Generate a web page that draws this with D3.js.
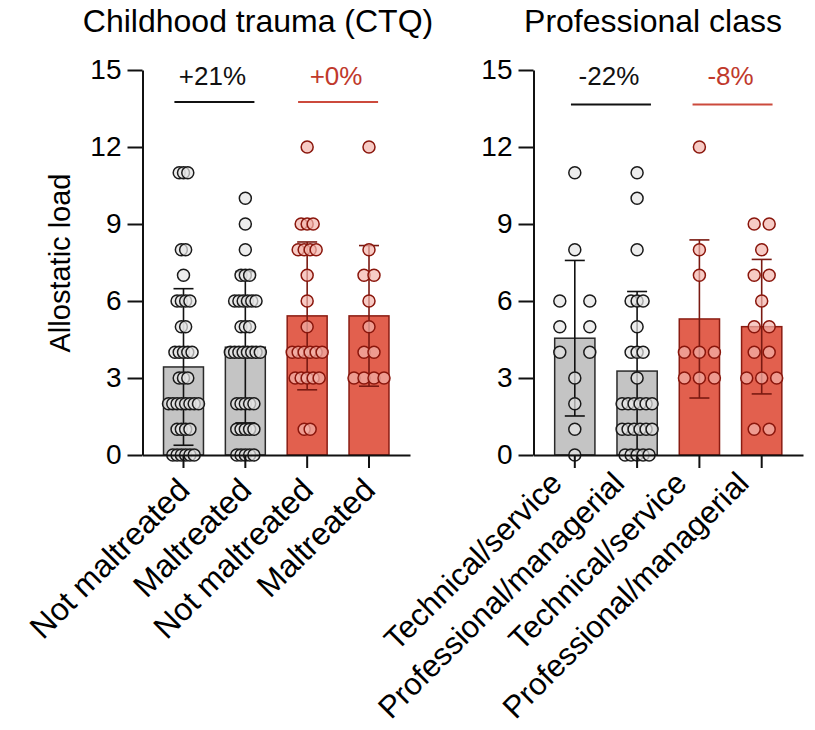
<!DOCTYPE html>
<html>
<head>
<meta charset="utf-8">
<script src="https://cdn.jsdelivr.net/npm/d3@7"></script>
<style>
  html, body { margin: 0; padding: 0; background: #fff; }
  svg { display: block; font-family: "Liberation Sans", Arial, Helvetica, sans-serif; }
</style>
</head>
<body>
<svg id="chart" width="815" height="730"></svg>
<script>
// ---------------- data ----------------
const ctqTitle = "Childhood trauma (CTQ)";
const classTitle = "Professional class";
const yLabel = "Allostatic load";
const yTicks = [0, 3, 6, 9, 12, 15];

const ctqCategories = ["Not maltreated", "Maltreated", "Not maltreated", "Maltreated"];
const ctqMeans = [3.43, 4.2, 5.42, 5.42];
const ctqSD = [3.05, 2.95, 2.88, 2.74];
const ctqPoints = [
  [11,11,11,8,8,7,6,6,6,6,5,5,4,4,4,4,4,3,3,3,2,2,2,2,2,2,2,2,1,1,1,1,0,0,0,0,0,0],
  [10,9,8,7,7,7,6,6,6,6,6,6,5,5,5,4,4,4,4,4,4,4,4,2,2,2,2,2,1,1,1,1,1,0,0,0,0,0],
  [12,9,9,9,8,8,8,8,7,6,5,4,4,4,4,4,4,3,3,3,3,3,1,1],
  [12,8,7,7,6,5,4,4,3,3,3,3]
];
const ctqChanges = ["+21%", "+0%"];

const classCategories = ["Technical/service", "Professional/managerial", "Technical/service", "Professional/managerial"];
const classMeans = [4.55, 3.27, 5.3, 5.0];
const classSD = [3.03, 3.1, 3.08, 2.62];
const classPoints = [
  [11,8,6,6,5,5,4,4,3,2,1,0],
  [11,10,8,6,6,6,5,4,4,4,3,2,2,2,2,2,2,1,1,1,1,1,1,0,0,0,0,0],
  [12,8,7,4,4,4,3,3,3],
  [9,9,8,7,7,6,5,5,4,4,3,3,3,1,1]
];
const classChanges = ["-22%", "-8%"];

const groupKind = ["gray", "gray", "red", "red"];

// ---------------- styles ----------------
const style = {
  gray: { bar: "#c4c4c4", barStroke: "#2a2a2a", pt: "#e6e6e6", ptStroke: "#1a1a1a", err: "#111111" },
  red:  { bar: "#e2604e", barStroke: "#8a1c12", pt: "#f4b5ac", ptStroke: "#8a160c", err: "#7a1a12" }
};
const changeColors = ["#111111", "#c0392b"];
const changeLineColors = ["#111111", "#cc4a3c"];

const svg = d3.select("#chart");
const y = d3.scaleLinear().domain([0, 15]).range([455, 70]);

const panels = [
  { title: ctqTitle, titleX: 258, cats: ctqCategories, means: ctqMeans, sds: ctqSD, pts: ctqPoints,
    changes: ctqChanges, x0: 142.5, x1: 410, lineY: 102, lineShift: [0, 0],
    lblDx: 8, lblY: 492, lblSize: 32 },
  { title: classTitle, titleX: 653, cats: classCategories, means: classMeans, sds: classSD, pts: classPoints,
    changes: classChanges, x0: 533.5, x1: 803, lineY: 104.5, lineShift: [5, 2],
    lblDx: -11, lblY: 485, lblSize: 31 }
];

// y label
svg.append("text")
  .attr("transform", "translate(70,263) rotate(-90)")
  .attr("text-anchor", "middle")
  .attr("font-size", 29)
  .attr("fill", "#000")
  .text(yLabel);

panels.forEach(p => {
  const g = svg.append("g");
  const x = d3.scaleBand().domain(d3.range(p.cats.length)).range([p.x0, p.x1])
    .paddingInner(0.354).paddingOuter(0.34);
  const bw = x.bandwidth();
  const cx = i => x(i) + bw / 2;

  g.append("text")
    .attr("x", p.titleX).attr("y", 32)
    .attr("text-anchor", "middle")
    .attr("font-size", 32)
    .text(p.title);

  // bars
  g.selectAll("rect.bar").data(p.means).join("rect")
    .attr("class", "bar")
    .attr("x", (d, i) => x(i))
    .attr("width", bw)
    .attr("y", d => y(d))
    .attr("height", d => y(0) - y(d))
    .attr("fill", (d, i) => style[groupKind[i]].bar)
    .attr("stroke", (d, i) => style[groupKind[i]].barStroke)
    .attr("stroke-width", 1.5);

  // error bars
  const eb = g.selectAll("g.err").data(p.means).join("g").attr("class", "err")
    .attr("stroke", (d, i) => style[groupKind[i]].err)
    .attr("stroke-width", 1.6);
  eb.append("line")
    .attr("x1", (d, i) => cx(i)).attr("x2", (d, i) => cx(i))
    .attr("y1", (d, i) => y(d + p.sds[i])).attr("y2", (d, i) => y(Math.max(0, d - p.sds[i])));
  eb.append("line")
    .attr("x1", (d, i) => cx(i) - 10).attr("x2", (d, i) => cx(i) + 10)
    .attr("y1", (d, i) => y(d + p.sds[i])).attr("y2", (d, i) => y(d + p.sds[i]));
  eb.filter((d, i) => d - p.sds[i] > 0).append("line")
    .attr("x1", (d, i) => cx(i) - 10).attr("x2", (d, i) => cx(i) + 10)
    .attr("y1", (d, i) => y(d - p.sds[i])).attr("y2", (d, i) => y(d - p.sds[i]));

  // points (spread horizontally like a scatter dot plot)
  p.pts.forEach((vals, i) => {
    const counts = d3.rollup(vals, v => v.length, d => d);
    const kmax = d3.max(counts.values());
    const s = kmax > 1 ? 30 / (kmax - 1) : 0;
    const pos = [];
    Array.from(counts.keys()).forEach(v => {
      const k = counts.get(v);
      for (let j = 0; j < k; j++) pos.push({ v, off: (j - (k - 1) / 2) * s });
    });
    const st = style[groupKind[i]];
    g.append("g").selectAll("circle").data(pos).join("circle")
      .attr("cx", d => cx(i) + d.off)
      .attr("cy", d => y(d.v))
      .attr("r", 6)
      .attr("fill", st.pt)
      .attr("fill-opacity", 0.7)
      .attr("stroke", st.ptStroke)
      .attr("stroke-width", 1.5);
  });

  // y axis
  const ya = g.append("g").attr("transform", `translate(${p.x0},0)`)
    .call(d3.axisLeft(y).tickValues(yTicks).tickSize(15).tickSizeOuter(0).tickPadding(6));
  ya.select(".domain").attr("stroke", "#111").attr("stroke-width", 2);
  ya.selectAll(".tick line").attr("stroke", "#111").attr("stroke-width", 2);
  ya.selectAll(".tick text").attr("font-size", 28).attr("font-family", null).attr("fill", "#000");

  // x axis
  const xa = g.append("g").attr("transform", `translate(0,${y(0)})`)
    .call(d3.axisBottom(x).tickSize(13).tickSizeOuter(0).tickFormat(i => p.cats[i]));
  xa.select(".domain").attr("stroke", "#111").attr("stroke-width", 2);
  xa.selectAll(".tick line").attr("stroke", "#111").attr("stroke-width", 2);
  xa.selectAll(".tick text")
    .attr("font-size", p.lblSize).attr("font-family", null).attr("fill", "#000")
    .attr("text-anchor", "end")
    .attr("x", 0).attr("y", 0).attr("dy", 0)
    .attr("transform", `translate(${p.lblDx},${p.lblY - y(0)}) rotate(-45)`);

  // change annotations
  p.changes.forEach((t, k) => {
    const a = cx(2 * k), b = cx(2 * k + 1);
    const mid = (a + b) / 2 + p.lineShift[k];
    g.append("line")
      .attr("x1", mid - 40).attr("x2", mid + 40)
      .attr("y1", p.lineY).attr("y2", p.lineY)
      .attr("stroke", changeLineColors[k]).attr("stroke-width", 2.2);
    g.append("text")
      .attr("x", mid - 2).attr("y", 85)
      .attr("text-anchor", "middle")
      .attr("font-size", 26)
      .attr("fill", changeColors[k])
      .text(t);
  });
});
</script>
</body>
</html>
